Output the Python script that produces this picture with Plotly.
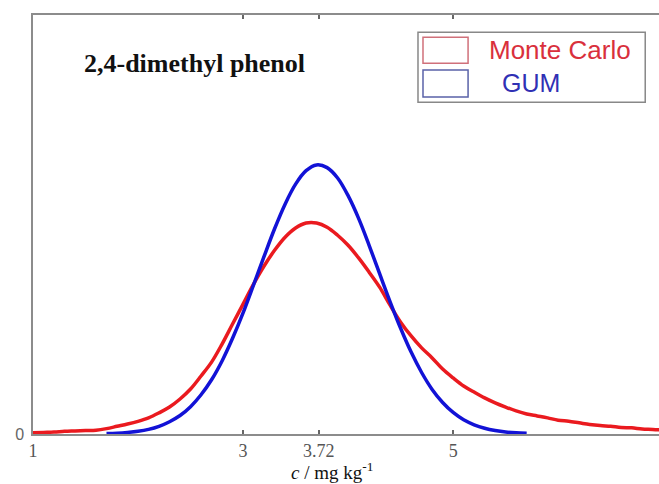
import plotly.graph_objects as go

# ---- data ----
red_x = [1.0, 1.1, 1.2, 1.3, 1.4, 1.5, 1.6, 1.7, 1.8, 1.9,
         2.0, 2.1, 2.2, 2.3, 2.4, 2.5, 2.6, 2.7, 2.8, 2.9,
         3.0, 3.1, 3.2, 3.3, 3.4, 3.5, 3.6, 3.7, 3.8, 3.9,
         4.0, 4.1, 4.2, 4.3, 4.4, 4.5, 4.6, 4.7, 4.8, 4.9,
         5.0, 5.1, 5.2, 5.3, 5.4, 5.5, 5.6, 5.7, 5.8, 5.9,
         6.0, 6.1, 6.2, 6.3, 6.4, 6.5, 6.6, 6.7, 6.8, 6.9, 7.0]
monte_carlo = [0.003, 0.004, 0.005, 0.007, 0.008, 0.009, 0.010, 0.014, 0.020, 0.026,
               0.033, 0.042, 0.055, 0.070, 0.091, 0.117, 0.151, 0.187, 0.234, 0.286,
               0.338, 0.390, 0.437, 0.478, 0.512, 0.536, 0.549, 0.549, 0.538, 0.517,
               0.491, 0.458, 0.421, 0.382, 0.335, 0.291, 0.255, 0.224, 0.198, 0.169,
               0.146, 0.125, 0.109, 0.094, 0.081, 0.070, 0.060, 0.052, 0.047, 0.042,
               0.036, 0.033, 0.029, 0.025, 0.022, 0.020, 0.017, 0.016, 0.013, 0.012, 0.010]

blue_x = [1.7, 1.8, 1.9, 2.0, 2.1, 2.2, 2.3, 2.4, 2.5, 2.6,
          2.7, 2.8, 2.9, 3.0, 3.1, 3.2, 3.3, 3.4, 3.5, 3.6,
          3.7, 3.8, 3.9, 4.0, 4.1, 4.2, 4.3, 4.4, 4.5, 4.6,
          4.7, 4.8, 4.9, 5.0, 5.1, 5.2, 5.3, 5.4, 5.5, 5.6, 5.7]
gum = [0.001, 0.002, 0.004, 0.007, 0.012, 0.020, 0.032, 0.048, 0.071, 0.102,
       0.141, 0.190, 0.249, 0.315, 0.388, 0.462, 0.534, 0.598, 0.650, 0.685,
       0.700, 0.693, 0.666, 0.620, 0.561, 0.491, 0.417, 0.344, 0.275, 0.213,
       0.160, 0.116, 0.082, 0.056, 0.037, 0.024, 0.015, 0.009, 0.005, 0.003, 0.002]

x_tick_vals = [1, 3, 3.72, 5, 7]
x_tick_text = ["1", "3", "3.72", "5", "7"]
series_names = ["Monte Carlo", "GUM"]
title_text = "2,4-dimethyl phenol"

RED = "#ea1a1f"
BLUE = "#1212d6"

fig = go.Figure()
fig.add_trace(go.Scatter(x=red_x, y=monte_carlo, mode="lines", name=series_names[0],
                         line=dict(color=RED, width=3.5, shape="spline"), showlegend=False))
fig.add_trace(go.Scatter(x=blue_x, y=gum, mode="lines", name=series_names[1],
                         line=dict(color=BLUE, width=3.5, shape="spline"), showlegend=False))

fig.update_layout(
    width=659, height=484,
    margin=dict(l=33, r=0, t=15, b=50, autoexpand=False),
    paper_bgcolor="white", plot_bgcolor="white",
    xaxis=dict(range=[1, 6.96], tickvals=x_tick_vals, ticktext=x_tick_text,
               automargin=False,
               showgrid=False, zeroline=False, showline=True, linecolor="#8c8c8c",
               linewidth=1.5, mirror="allticks", ticks="inside", ticklen=4,
               tickcolor="#666", tickwidth=1.5,
               tickfont=dict(family="Liberation Serif", size=18, color="#555"),
               ticklabelstandoff=0),
    yaxis=dict(range=[0, 1.09], tickvals=[0], ticktext=["0"], automargin=False,
               showgrid=False, zeroline=False, showline=True, linecolor="#8c8c8c",
               linewidth=1.5, ticks="",
               tickfont=dict(family="Liberation Sans", size=16, color="#666"),
               ticklabelstandoff=4),
)

# title text inside the plot
fig.add_annotation(text="<b>" + title_text + "</b>", xref="paper", yref="paper",
                   x=0.078, y=0.885, xanchor="left", yanchor="middle", showarrow=False,
                   font=dict(family="Liberation Serif", size=26, color="#111"))

# x-axis title
fig.add_annotation(text="<i>c</i> / mg kg<sup>-1</sup>", xref="paper", yref="paper",
                   x=0.478, y=-50 / 419, xanchor="center", yanchor="bottom", showarrow=False,
                   borderpad=0,
                   font=dict(family="Liberation Serif", size=19, color="#111"))

# legend drawn manually (rectangle swatches)
fig.add_shape(type="rect", xref="paper", yref="paper", x0=0.615, x1=0.978, y0=0.792, y1=0.959,
              line=dict(color="#888", width=1.5), fillcolor="white")
fig.add_shape(type="rect", xref="paper", yref="paper", x0=0.623, x1=0.695, y0=0.885, y1=0.947,
              line=dict(color="#d0707a", width=1.5))
fig.add_shape(type="rect", xref="paper", yref="paper", x0=0.623, x1=0.695, y0=0.804, y1=0.869,
              line=dict(color="#5a62a8", width=1.5))
fig.add_annotation(text=series_names[0], xref="paper", yref="paper", x=0.725, y=0.916,
                   xanchor="left", yanchor="middle", showarrow=False,
                   font=dict(family="Liberation Sans", size=26, color="#d9303c"))
fig.add_annotation(text=series_names[1], xref="paper", yref="paper", x=0.746, y=0.838,
                   xanchor="left", yanchor="middle", showarrow=False,
                   font=dict(family="Liberation Sans", size=25, color="#3030b4"))

fig.write_html("out.html", config={"displayModeBar": False},
               post_script="document.body.style.margin='0';document.body.style.padding='0';")
